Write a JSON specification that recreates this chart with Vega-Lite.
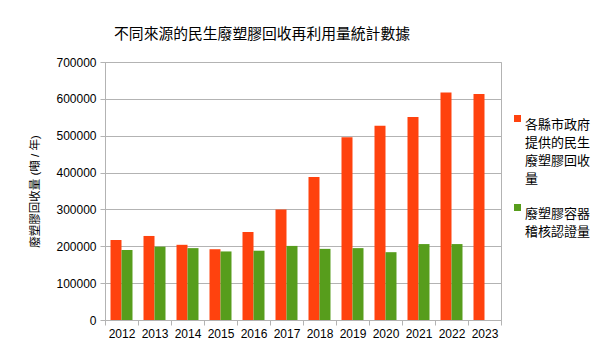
{
  "$schema": "https://vega.github.io/schema/vega-lite/v6.json",
  "width": 396,
  "height": 258,
  "autosize": {"type": "none"},
  "padding": {"left": 105, "top": 62, "right": 105, "bottom": 31},
  "title": {
    "text": "不同來源的民生廢塑膠回收再利用量統計數據",
    "anchor": "middle",
    "frame": "group",
    "dx": -41,
    "offset": 14,
    "fontSize": 14.8,
    "fontWeight": "normal",
    "color": "#000000",
    "font": "Liberation Sans, Noto Sans CJK TC, sans-serif"
  },
  "data": {
    "values": [
      {"year": "2012", "series": "各縣市政府提供的民生廢塑膠回收量", "value": 217000},
      {"year": "2013", "series": "各縣市政府提供的民生廢塑膠回收量", "value": 228000},
      {"year": "2014", "series": "各縣市政府提供的民生廢塑膠回收量", "value": 204000},
      {"year": "2015", "series": "各縣市政府提供的民生廢塑膠回收量", "value": 192000},
      {"year": "2016", "series": "各縣市政府提供的民生廢塑膠回收量", "value": 239000},
      {"year": "2017", "series": "各縣市政府提供的民生廢塑膠回收量", "value": 300000},
      {"year": "2018", "series": "各縣市政府提供的民生廢塑膠回收量", "value": 388000},
      {"year": "2019", "series": "各縣市政府提供的民生廢塑膠回收量", "value": 496000},
      {"year": "2020", "series": "各縣市政府提供的民生廢塑膠回收量", "value": 527000},
      {"year": "2021", "series": "各縣市政府提供的民生廢塑膠回收量", "value": 551000},
      {"year": "2022", "series": "各縣市政府提供的民生廢塑膠回收量", "value": 617000},
      {"year": "2023", "series": "各縣市政府提供的民生廢塑膠回收量", "value": 613000},
      {"year": "2012", "series": "廢塑膠容器稽核認證量", "value": 190000},
      {"year": "2013", "series": "廢塑膠容器稽核認證量", "value": 199000},
      {"year": "2014", "series": "廢塑膠容器稽核認證量", "value": 195000},
      {"year": "2015", "series": "廢塑膠容器稽核認證量", "value": 186000},
      {"year": "2016", "series": "廢塑膠容器稽核認證量", "value": 188000},
      {"year": "2017", "series": "廢塑膠容器稽核認證量", "value": 201000},
      {"year": "2018", "series": "廢塑膠容器稽核認證量", "value": 193000},
      {"year": "2019", "series": "廢塑膠容器稽核認證量", "value": 195000},
      {"year": "2020", "series": "廢塑膠容器稽核認證量", "value": 184000},
      {"year": "2021", "series": "廢塑膠容器稽核認證量", "value": 206000},
      {"year": "2022", "series": "廢塑膠容器稽核認證量", "value": 206000}
    ]
  },
  "mark": {"type": "bar"},
  "encoding": {
    "x": {
      "field": "year",
      "type": "nominal",
      "scale": {"paddingInner": 0, "paddingOuter": 0},
      "axis": {
        "title": null,
        "labelAngle": 0,
        "tickBand": "extent",
        "grid": false,
        "domain": false,
        "ticks": true,
        "tickColor": "#b3b3b3",
        "tickSize": 5,
        "labelPadding": 3,
        "labelFontSize": 12,
        "labelColor": "#000000",
        "labelFont": "Liberation Sans"
      }
    },
    "xOffset": {
      "field": "series",
      "type": "nominal",
      "sort": ["各縣市政府提供的民生廢塑膠回收量", "廢塑膠容器稽核認證量"],
      "scale": {"paddingInner": 0, "paddingOuter": 0.5}
    },
    "y": {
      "field": "value",
      "type": "quantitative",
      "scale": {"domain": [0, 700000], "nice": false},
      "axis": {
        "title": "廢塑膠回收量 (噸 / 年)",
        "titleFontSize": 11.5,
        "titleFontWeight": "normal",
        "titleColor": "#000000",
        "titleFont": "Liberation Sans, Noto Sans CJK TC, sans-serif",
        "titlePadding": 15,
        "values": [0, 100000, 200000, 300000, 400000, 500000, 600000, 700000],
        "format": "d",
        "labelFontSize": 12,
        "labelColor": "#000000",
        "labelFont": "Liberation Sans",
        "labelPadding": 4,
        "tickSize": 5,
        "tickColor": "#b3b3b3",
        "domainColor": "#b3b3b3",
        "gridColor": "#b3b3b3",
        "grid": true
      }
    },
    "color": {
      "field": "series",
      "type": "nominal",
      "scale": {
        "domain": ["各縣市政府提供的民生廢塑膠回收量", "廢塑膠容器稽核認證量"],
        "range": ["#ff420e", "#579d1c"]
      },
      "legend": {
        "title": null,
        "orient": "none",
        "legendX": 406,
        "legendY": 50,
        "symbolType": "square",
        "symbolSize": 49,
        "symbolStrokeWidth": 0,
        "labelOffset": 1,
        "labelFontSize": 13,
        "labelColor": "#000000",
        "labelFont": "Liberation Sans, Noto Sans CJK TC, sans-serif",
        "labelBaseline": "top",
        "labelLimit": 0,
        "rowPadding": 15,
        "padding": 0,
        "labelExpr": "datum.value == '廢塑膠容器稽核認證量' ? ['廢塑膠容器', '稽核認證量'] : ['各縣市政府', '提供的民生', '廢塑膠回收', '量']"
      }
    }
  },
  "config": {
    "view": {"stroke": "#b3b3b3"},
    "style": {"guide-label": {"lineHeight": 18}}
  }
}
